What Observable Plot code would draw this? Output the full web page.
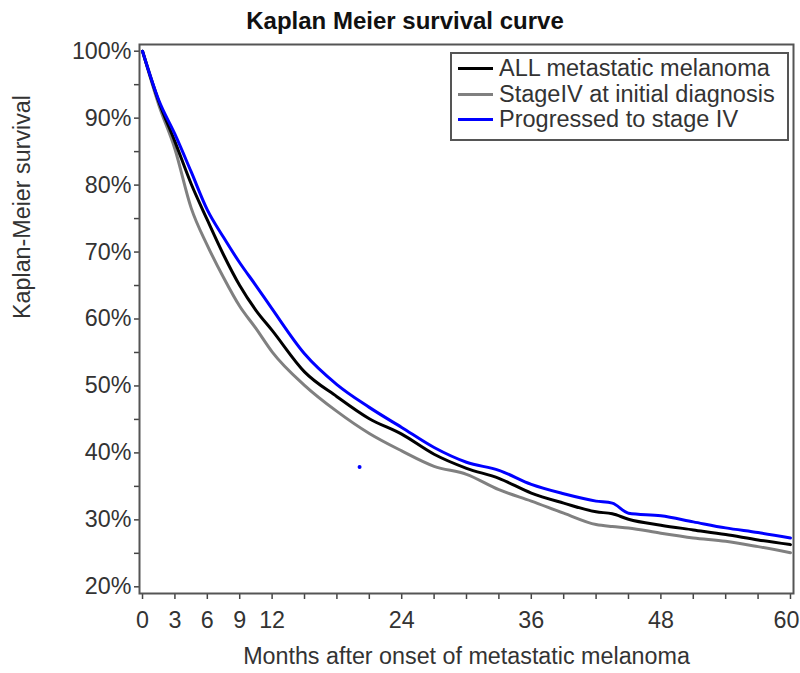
<!DOCTYPE html>
<html>
<head>
<meta charset="utf-8">
<script src="https://cdn.jsdelivr.net/npm/d3@7"></script>
<script src="https://cdn.jsdelivr.net/npm/@observablehq/plot@0.6"></script>
<style>
  body { margin: 0; background: #fff; font-family: "Liberation Sans", Arial, sans-serif; }
  #wrap { position: relative; width: 800px; height: 673px; }
  #title { height: 38px; width: 800px; box-sizing: border-box; padding-left: 10px; text-align: center;
           font-weight: bold; font-size: 24px; line-height: 24px; padding-top: 9px; color: #111; }
  #legend { position: absolute; left: 450px; top: 52px; width: 339px; height: 89px; box-sizing: border-box;
            border: 2px solid #555; background: #fff; padding-top: 2px; }
  .item { display: flex; align-items: center; height: 25.5px; font-size: 23.5px; color: #333; }
  .sw { width: 35px; height: 3px; margin-left: 6px; margin-right: 6px; }
</style>
</head>
<body>
<div id="wrap">
  <div id="title">Kaplan Meier survival curve</div>
  <div id="chart"></div>
  <div id="legend"></div>
</div>
<script>
const months = [0, 1.5, 3, 4.5, 6, 7.5, 9, 10.5, 12, 15, 18, 21, 24, 27, 30, 33, 36, 39, 42, 43.5, 45, 48, 51, 54, 57, 60];
const allMetastatic = [100, 92.5, 86.5, 80.2, 74.8, 69.6, 65.0, 61.3, 58.3, 52.1, 48.4, 45.1, 42.8, 39.8, 37.7, 36.2, 34.0, 32.5, 31.2, 30.9, 30.1, 29.2, 28.5, 27.8, 27.0, 26.3];
const stageIVInitial = [100, 92.0, 85.4, 76.6, 71.0, 66.2, 61.9, 58.6, 55.1, 50.1, 46.2, 42.9, 40.3, 38.0, 36.8, 34.5, 32.8, 31.0, 29.3, 29.0, 28.8, 28.0, 27.3, 26.8, 26.0, 25.1];
const progressed = [100, 92.7, 87.6, 82.0, 76.3, 72.2, 68.4, 65.0, 61.5, 54.8, 50.2, 46.8, 43.8, 40.8, 38.6, 37.4, 35.3, 33.9, 32.8, 32.5, 31.0, 30.6, 29.7, 28.8, 28.1, 27.3];
const seriesNames = ["ALL metastatic melanoma", "StageIV at initial diagnosis", "Progressed to stage IV"];
const seriesColors = ["#000000", "#808080", "#0000ff"];
const strayPoint = [{m: 20.1, v: 37.9}];
const xTicks = [0, 3, 6, 9, 12, 15, 18, 21, 24, 27, 30, 33, 36, 39, 42, 45, 48, 51, 54, 57, 60];
const xTickLabels = [0, 3, 6, 9, 12, 24, 36, 48];
const xLastLabel = [60];
const yMajor = [0.2, 0.3, 0.4, 0.5, 0.6, 0.7, 0.8, 0.9, 1.0];
const yMinor = [0.25, 0.35, 0.45, 0.55, 0.65, 0.75, 0.85, 0.95];
const xTitle = "Months after onset of metastatic melanoma";
const yTitle = "Kaplan-Meier survival";

const valuesBySeries = [allMetastatic, stageIVInitial, progressed];
const rows = [];
valuesBySeries.forEach((vals, i) => vals.forEach((v, j) => rows.push({series: seriesNames[i], m: months[j], v: v / 100})));
const drawOrder = [1, 0, 2];
const fs = 23.3;

const chart = Plot.plot({
  width: 800,
  height: 635,
  marginLeft: 139,
  marginRight: 7,
  marginTop: 6,
  marginBottom: 80,
  style: {fontFamily: '"Liberation Sans", Arial, sans-serif', fontSize: fs + "px", color: "#444", background: "#fff", overflow: "visible"},
  x: {domain: [-0.28, 60.28]},
  y: {domain: [0.19, 1.01]},
  marks: [
    ...drawOrder.map(i => Plot.line(rows.filter(d => d.series === seriesNames[i]), {
      x: "m", y: "v", stroke: seriesColors[i], strokeWidth: 3, curve: "monotone-x"
    })),
    Plot.dot(strayPoint, {x: "m", y: d => d.v / 100, r: 2, fill: "#0000ff", stroke: null}),
    Plot.axisY(yMajor, {tickSize: 5, tickPadding: 3, tickFormat: d3.format(".0%"), label: null, fill: "#333", fontSize: fs, strokeWidth: 1.5}),
    Plot.axisY(yMinor, {tickSize: 5, tickFormat: () => "", label: null, strokeWidth: 1.5}),
    Plot.axisX(xTicks, {tickSize: 6, tickPadding: 12, tickFormat: d => xTickLabels.includes(d) ? String(d) : "", label: null, fill: "#333", fontSize: fs, strokeWidth: 1.5}),
    Plot.axisX(xLastLabel, {tickSize: 0, tickPadding: 18, dx: -4, tickFormat: d => String(d), label: null, fill: "#333", fontSize: fs}),
    Plot.frame({stroke: "#555", strokeWidth: 2}),
    Plot.text([xTitle], {frameAnchor: "bottom", dy: 70, fill: "#333", fontSize: fs}),
    Plot.text([yTitle], {frameAnchor: "left", dx: -117, rotate: -90, fill: "#333", fontSize: fs})
  ]
});
document.getElementById("chart").appendChild(chart);

const legend = document.getElementById("legend");
seriesNames.forEach((name, i) => {
  const item = document.createElement("div");
  item.className = "item";
  const sw = document.createElement("span");
  sw.className = "sw";
  sw.style.background = seriesColors[i];
  const label = document.createElement("span");
  label.textContent = name;
  item.appendChild(sw);
  item.appendChild(label);
  legend.appendChild(item);
});
</script>
</body>
</html>
